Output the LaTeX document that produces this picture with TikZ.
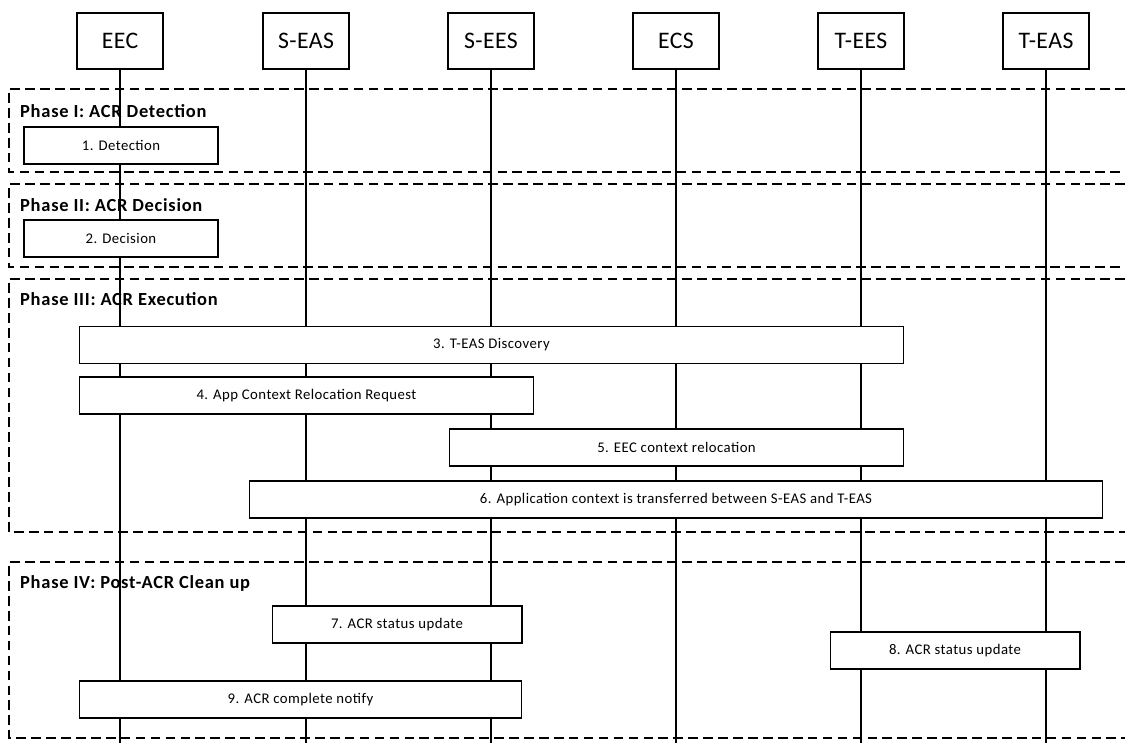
\documentclass[tikz,border=0pt]{standalone}
\usepackage{fontspec}
\setmainfont{Carlito}
\usetikzlibrary{positioning,calc}

\begin{document}
\begin{tikzpicture}[x=0.02cm, y=-0.02cm,
  entity/.style={draw, line width=0.6pt, minimum width=1.72cm,
    minimum height=1.12cm, font=\fontsize{13.5}{15}\selectfont\addfontfeatures{LetterSpace=2}},
  stepbox/.style={draw, fill=white, line width=0.6pt, minimum height=0.74cm,
    font=\fontsize{8.4}{10}\selectfont\addfontfeatures{LetterSpace=3}},
  phase/.style={dash pattern=on 5.5pt off 3pt, line width=0.8pt},
  phaselabel/.style={anchor=west, font=\fontsize{10.5}{12}\selectfont\bfseries\addfontfeatures{LetterSpace=4}},
  life/.style={line width=0.6pt}]
  \useasboundingbox (0,0) rectangle (1125,743);

  % phases (open to the right)
  \draw[phase] (1125,89) -- (9,89) -- (9,172) -- (1125,172);
  \draw[phase] (1125,184) -- (9,184) -- (9,267) -- (1125,267);
  \draw[phase] (1125,279) -- (9,279) -- (9,532) -- (1125,532);
  \draw[phase] (1125,562) -- (9,562) -- (9,738) -- (1125,738);

  % entities
  \node[entity] (eec) at (120,41) {EEC};
  \node[entity] (seas) at (306,41) {S-EAS};
  \node[entity] (sees) at (491,41) {S-EES};
  \node[entity] (ecs) at (676,41) {ECS};
  \node[entity] (tees) at (861,41) {T-EES};
  \node[entity] (teas) at (1046,41) {T-EAS};
  \coordinate (bottom) at (0,743);

  % lifelines
  \foreach \e in {eec,seas,sees,ecs,tees,teas}
    \draw[life] (\e.south) -- (\e |- bottom);

  % phase titles
  \node[phaselabel] (ph1) at (14,111) {Phase I: ACR Detection};
  \node[phaselabel] (ph2) at (14,205) {Phase II: ACR Decision};
  \node[phaselabel] (ph3) at (14,299) {Phase III: ACR Execution};
  \node[phaselabel] (ph4) at (14,583) {Phase IV: Post-ACR Clean up};

  % steps
  \node[stepbox, minimum width=3.88cm] (s1) at (121,145.5) {1. Detection};
  \node[stepbox, minimum width=3.88cm] (s2) at (121,238.5) {2. Decision};
  \node[stepbox, minimum width=16.5cm] (s3) at (491.5,345) {3. T-EAS Discovery};
  \node[stepbox, minimum width=9.1cm] (s4) at (306.5,395.5) {4. App Context Relocation Request};
  \node[stepbox, minimum width=9.1cm] (s5) at (676.5,447.5) {5. EEC context relocation};
  \node[stepbox, minimum width=17.08cm] (s6) at (676,499.5) {6. Application context is transferred between S-EAS and T-EAS};
  \node[stepbox, minimum width=5cm] (s7) at (397,624.5) {7. ACR status update};
  \node[stepbox, minimum width=5cm] (s8) at (955,650.5) {8. ACR status update};
  \node[stepbox, minimum width=8.86cm] (s9) at (300.5,699.5) {9. ACR complete notify};
\end{tikzpicture}
\end{document}
